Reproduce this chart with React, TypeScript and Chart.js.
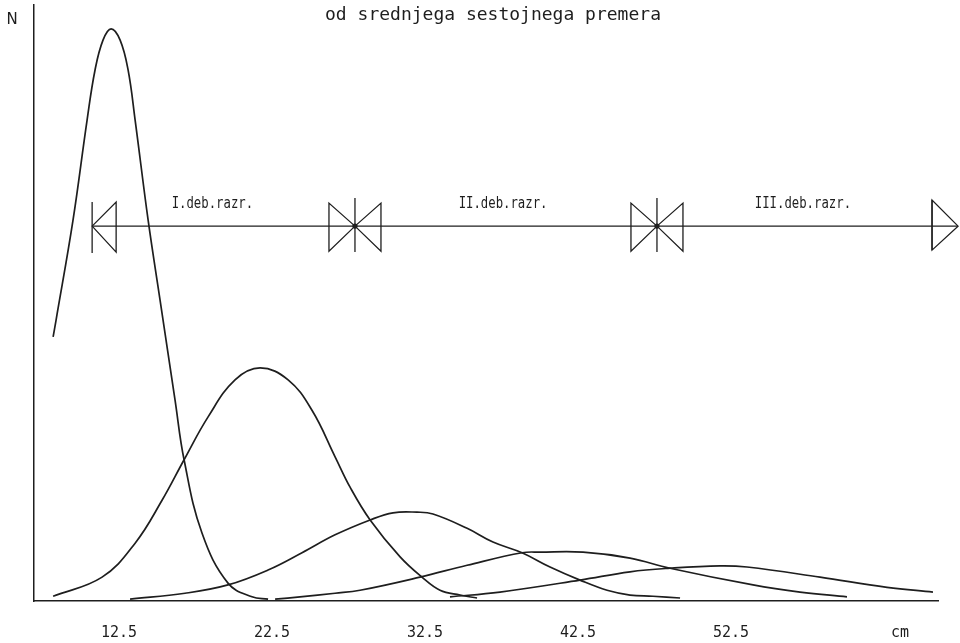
import React, { useEffect, useRef } from "react";
import { Chart, registerables } from "chart.js";

Chart.register(...registerables);

// ---- Data ----
// x in cm, y in relative frequency N (0..100 axis)
const curve1X = [8.19, 8.38, 9.49, 10.41, 10.93, 11.45, 11.98, 12.57, 13.09, 13.55, 14.4, 15.18, 16.16, 16.75, 17.92, 19.62, 21.19, 22.24];
const curve1Y = [44.3, 47.1, 63.9, 80.7, 89.1, 94.1, 96.0, 94.1, 89.1, 80.7, 63.9, 50.5, 33.7, 23.7, 11.4, 3.0, 0.7, 0.3];

const curve2X = [8.19, 11.39, 13.55, 15.31, 16.75, 18.32, 20.08, 21.72, 23.55, 25.11, 26.62, 27.6, 28.91, 30.87, 32.3, 33.48, 34.79, 35.9];
const curve2Y = [0.8, 4.0, 9.7, 16.9, 23.7, 30.9, 37.1, 39.1, 37.1, 32.0, 24.2, 19.1, 13.6, 7.4, 4.0, 1.8, 1.0, 0.5];

const curve3X = [13.22, 16.81, 19.62, 22.24, 24.46, 26.62, 28.91, 30.41, 31.98, 33.02, 35.25, 36.94, 38.84, 40.67, 42.63, 44.4, 45.9, 47.4, 49.17];
const curve3Y = [0.3, 1.3, 2.7, 5.2, 8.1, 11.1, 13.6, 14.8, 14.9, 14.6, 12.2, 9.9, 8.1, 5.7, 3.5, 1.8, 1.0, 0.8, 0.5];

const curve4X = [22.7, 24.33, 26.62, 28.25, 32.17, 35.25, 38.84, 40.02, 42.83, 45.9, 48.51, 53.94, 57.01, 60.08];
const curve4Y = [0.3, 0.7, 1.3, 1.8, 4.0, 6.0, 8.1, 8.2, 8.2, 7.2, 5.5, 2.7, 1.5, 0.7];

const curve5X = [34.13, 37.4, 42.63, 45.9, 48.51, 51.78, 53.55, 58.32, 62.7, 65.7];
const curve5Y = [0.7, 1.5, 3.5, 4.9, 5.5, 5.9, 5.7, 4.0, 2.3, 1.5];

const tickValues = [12.5, 22.5, 32.5, 42.5, 52.5, 63.55];
const tickLabels = ["12.5", "22.5", "32.5", "42.5", "52.5", "cm"];

const classBounds = [10.74, 27.92, 47.66, 65.64];
const arrowTip = 67.34;
const arrowLevel = 62.9;
const classLabels = ["I.deb.razr.", "II.deb.razr.", "III.deb.razr."];
const classLabelX = [18.6, 37.6, 57.2];

const titleText = "od srednjega sestojnega premera";
const yAxisLabel = "N";

const X_MIN = 6.94;
const X_MAX = 66.03;

const INK = "#1e1e1e";

function toPoints(xs: number[], ys: number[]) {
  return xs.map((x, i) => ({ x, y: ys[i] }));
}

const annotationPlugin = {
  id: "annot",
  afterDatasetsDraw(chart: any) {
    const ctx = chart.ctx as CanvasRenderingContext2D;
    const xs = chart.scales.x;
    const ys = chart.scales.y;
    const yA = ys.getPixelForValue(arrowLevel);
    ctx.save();
    ctx.strokeStyle = INK;
    ctx.fillStyle = INK;
    ctx.lineWidth = 1.3;
    ctx.lineJoin = "miter";

    const seg = (x1: number, y1: number, x2: number, y2: number) => {
      ctx.beginPath();
      ctx.moveTo(x1, y1);
      ctx.lineTo(x2, y2);
      ctx.stroke();
    };
    const tri = (tx: number, ty: number, bx: number, b1: number, b2: number) => {
      ctx.beginPath();
      ctx.moveTo(tx, ty);
      ctx.lineTo(bx, b1);
      ctx.lineTo(bx, b2);
      ctx.closePath();
      ctx.stroke();
    };

    const x0 = xs.getPixelForValue(classBounds[0]);
    const xt = xs.getPixelForValue(arrowTip);
    seg(x0, yA, xt, yA);

    // left marker
    seg(x0, yA - 24, x0, yA + 27);
    tri(x0, yA, x0 + 24, yA - 24, yA + 26);

    // middle markers
    for (let i = 1; i < classBounds.length - 1; i++) {
      const xb = xs.getPixelForValue(classBounds[i]);
      seg(xb, yA - 28, xb, yA + 26);
      tri(xb, yA, xb - 26, yA - 23, yA + 25);
      tri(xb, yA, xb + 26, yA - 23, yA + 25);
      ctx.beginPath();
      ctx.arc(xb, yA, 2.6, 0, Math.PI * 2);
      ctx.fill();
    }

    // right marker
    const xr = xs.getPixelForValue(classBounds[classBounds.length - 1]);
    seg(xr, yA - 26, xr, yA + 24);
    tri(xt, yA, xr, yA - 26, yA + 24);

    // class labels
    ctx.font = "15px 'DejaVu Sans Mono'";
    ctx.textAlign = "center";
    ctx.textBaseline = "middle";
    classLabels.forEach((t, i) => {
      const lx = xs.getPixelForValue(classLabelX[i]);
      ctx.save();
      ctx.translate(lx, yA - 22);
      ctx.scale(0.82, 1);
      ctx.fillText(t, 0, 0);
      ctx.restore();
    });

    // title
    ctx.font = "18px 'DejaVu Sans Mono'";
    ctx.fillText(titleText, 493, 15);

    // y-axis label
    ctx.font = "15px 'DejaVu Sans'";
    ctx.fillText(yAxisLabel, 12, 20);
    ctx.restore();
  },
};

export default function App() {
  const ref = useRef<HTMLCanvasElement | null>(null);

  useEffect(() => {
    if (!ref.current) return;
    const mk = (xs: number[], ys: number[]) => ({
      data: toPoints(xs, ys),
      borderColor: INK,
      borderWidth: 1.7,
      pointRadius: 0,
      fill: false,
      tension: 0.4,
    });
    const chart = new Chart(ref.current, {
      type: "line",
      data: {
        datasets: [
          mk(curve1X, curve1Y),
          mk(curve2X, curve2Y),
          mk(curve3X, curve3Y),
          mk(curve4X, curve4Y),
          mk(curve5X, curve5Y),
        ],
      },
      options: {
        animation: false,
        responsive: false,
        layout: { padding: { left: 34, right: 22, top: 5, bottom: 0 } },
        plugins: {
          legend: { display: false },
          tooltip: { enabled: false },
        },
        scales: {
          x: {
            type: "linear",
            min: X_MIN,
            max: X_MAX,
            grid: { display: false, drawTicks: false },
            border: { display: true, color: INK, width: 1.5 },
            ticks: {
              padding: 23,
              color: INK,
              autoSkip: false,
              maxRotation: 0,
              font: { family: "'DejaVu Sans Mono'", size: 15 },
              callback: (_v: any, i: number) => tickLabels[i],
            },
            afterBuildTicks: (s: any) => {
              s.ticks = tickValues.map((v) => ({ value: v }));
            },
            afterFit: (s: any) => {
              s.height = 42;
            },
          },
          y: {
            min: 0,
            max: 100,
            grid: { display: false, drawTicks: false },
            ticks: { display: false },
            border: { display: true, color: INK, width: 1.5 },
            afterFit: (s: any) => {
              s.width = 0;
            },
          },
        },
      },
      plugins: [annotationPlugin],
    });
    return () => chart.destroy();
  }, []);

  return (
    <div style={{ position: "absolute", left: 0, top: 0, width: 960, height: 643, background: "#fff" }}>
      <canvas ref={ref} width={960} height={643} />
    </div>
  );
}
